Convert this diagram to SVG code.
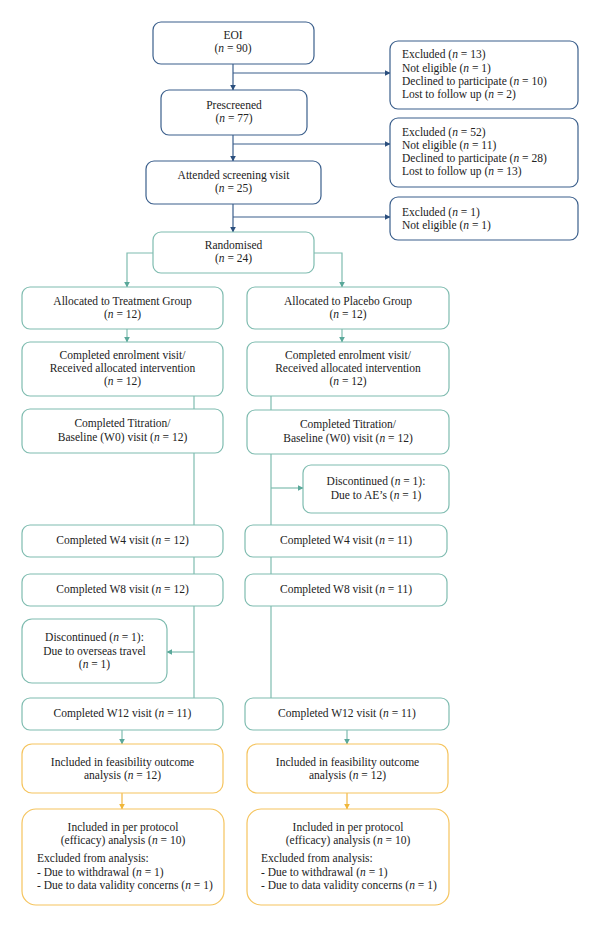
<svg xmlns="http://www.w3.org/2000/svg" width="600" height="927" viewBox="0 0 600 927">
<defs>
<style>
.b{fill:#fff;stroke:#3b5f8c;stroke-width:1.2}
.g{fill:#fff;stroke:#7fbcb0;stroke-width:1.2}
.y{fill:#fff;stroke:#f5c45e;stroke-width:1.2}
.lb{fill:none;stroke:#3b5f8c;stroke-width:1.2}
.lg{fill:none;stroke:#7fbcb0;stroke-width:1.2}
.ly{fill:none;stroke:#f2b843;stroke-width:1.2}
text{font-family:"Liberation Serif","DejaVu Serif",serif;font-size:11.5px;fill:#222}
.c{text-anchor:middle}
.i{font-style:italic}
</style>
<marker id="ab" viewBox="0 0 10 10" refX="9" refY="5" markerWidth="6" markerHeight="6" markerUnits="userSpaceOnUse" orient="auto"><path d="M0,0L10,5L0,10z" fill="#2b4f7e"/></marker>
<marker id="ag" viewBox="0 0 10 10" refX="9" refY="5" markerWidth="6" markerHeight="6" markerUnits="userSpaceOnUse" orient="auto"><path d="M0,0L10,5L0,10z" fill="#5aa89a"/></marker>
<marker id="ay" viewBox="0 0 10 10" refX="9" refY="5" markerWidth="6" markerHeight="6" markerUnits="userSpaceOnUse" orient="auto"><path d="M0,0L10,5L0,10z" fill="#f0b73a"/></marker>
</defs>
<rect width="600" height="927" fill="#fff"/>
<g id="connectors">
<path class="lb" d="M233,64V90" marker-end="url(#ab)"/>
<path class="lb" d="M233,73H390" marker-end="url(#ab)"/>
<path class="lb" d="M233,135V161" marker-end="url(#ab)"/>
<path class="lb" d="M233,144H390" marker-end="url(#ab)"/>
<path class="lb" d="M233,204V232" marker-end="url(#ab)"/>
<path class="lb" d="M233,217H390" marker-end="url(#ab)"/>
<path class="lg" d="M153,253H127V287" marker-end="url(#ag)"/>
<path class="lg" d="M314,253H342V287" marker-end="url(#ag)"/>
<path class="lg" d="M127,329V342" marker-end="url(#ag)"/>
<path class="lg" d="M342,329V342" marker-end="url(#ag)"/>
<path class="lg" d="M194,396V698"/>
<path class="lg" d="M194,652H167" marker-end="url(#ag)"/>
<path class="lg" d="M271,396V698"/>
<path class="lg" d="M271,488H303" marker-end="url(#ag)"/>
<path class="lg" d="M122,730V744" marker-end="url(#ag)"/>
<path class="lg" d="M347,730V744" marker-end="url(#ag)"/>
<path class="ly" d="M122,793V809" marker-end="url(#ay)"/>
<path class="ly" d="M347,793V809" marker-end="url(#ay)"/>
</g>
<g id="eoi"><rect class="b" x="153" y="22" width="161" height="42" rx="8"/><text class="c" x="233" y="39">EOI</text><text class="c" x="233" y="52">(<tspan class="i">n</tspan> = 90)</text></g>
<g id="excl1"><rect class="b" x="390" y="41" width="188" height="68" rx="8"/><text x="402" y="58">Excluded (<tspan class="i">n</tspan> = 13)</text><text x="402" y="71.5">Not eligible (<tspan class="i">n</tspan> = 1)</text><text x="402" y="84.5">Declined to participate (<tspan class="i">n</tspan> = 10)</text><text x="402" y="97.5">Lost to follow up (<tspan class="i">n</tspan> = 2)</text></g>
<g id="prescreened"><rect class="b" x="161" y="90" width="146" height="45" rx="8"/><text class="c" x="234" y="109">Prescreened</text><text class="c" x="234" y="122">(<tspan class="i">n</tspan> = 77)</text></g>
<g id="excl2"><rect class="b" x="390" y="118" width="188" height="69" rx="8"/><text x="402" y="136">Excluded (<tspan class="i">n</tspan> = 52)</text><text x="402" y="149">Not eligible (<tspan class="i">n</tspan> = 11)</text><text x="402" y="162">Declined to participate (<tspan class="i">n</tspan> = 28)</text><text x="402" y="175">Lost to follow up (<tspan class="i">n</tspan> = 13)</text></g>
<g id="screening"><rect class="b" x="146" y="161" width="175" height="43" rx="8"/><text class="c" x="233.5" y="179">Attended screening visit</text><text class="c" x="233.5" y="192">(<tspan class="i">n</tspan> = 25)</text></g>
<g id="excl3"><rect class="b" x="390" y="197" width="188" height="43" rx="8"/><text x="402" y="216">Excluded (<tspan class="i">n</tspan> = 1)</text><text x="402" y="228.5">Not eligible (<tspan class="i">n</tspan> = 1)</text></g>
<g id="randomised"><rect class="g" x="153" y="232" width="161" height="41" rx="8"/><text class="c" x="233.5" y="249">Randomised</text><text class="c" x="233.5" y="262">(<tspan class="i">n</tspan> = 24)</text></g>
<g id="alloc-t"><rect class="g" x="22" y="287" width="201" height="42" rx="8"/><text class="c" x="122.5" y="305">Allocated to Treatment Group</text><text class="c" x="122.5" y="318">(<tspan class="i">n</tspan> = 12)</text></g>
<g id="alloc-p"><rect class="g" x="247" y="287" width="202" height="42" rx="8"/><text class="c" x="348" y="305">Allocated to Placebo Group</text><text class="c" x="348" y="318">(<tspan class="i">n</tspan> = 12)</text></g>
<g id="enrol-t"><rect class="g" x="22" y="342" width="201" height="54" rx="8"/><text class="c" x="122.5" y="359">Completed enrolment visit/</text><text class="c" x="122.5" y="372">Received allocated intervention</text><text class="c" x="122.5" y="385">(<tspan class="i">n</tspan> = 12)</text></g>
<g id="enrol-p"><rect class="g" x="247" y="342" width="202" height="54" rx="8"/><text class="c" x="348" y="359">Completed enrolment visit/</text><text class="c" x="348" y="372">Received allocated intervention</text><text class="c" x="348" y="385">(<tspan class="i">n</tspan> = 12)</text></g>
<g id="titr-t"><rect class="g" x="22" y="409" width="201" height="44" rx="8"/><text class="c" x="122.5" y="427">Completed Titration/</text><text class="c" x="122.5" y="440.5">Baseline (W0) visit (<tspan class="i">n</tspan> = 12)</text></g>
<g id="titr-p"><rect class="g" x="247" y="410" width="202" height="44" rx="8"/><text class="c" x="348" y="428">Completed Titration/</text><text class="c" x="348" y="441.5">Baseline (W0) visit (<tspan class="i">n</tspan> = 12)</text></g>
<g id="disc-p"><rect class="g" x="303" y="465" width="146" height="48" rx="8"/><text class="c" x="376" y="485">Discontinued (<tspan class="i">n</tspan> = 1):</text><text class="c" x="376" y="498.5">Due to AE’s (<tspan class="i">n</tspan> = 1)</text></g>
<g id="w4-t"><rect class="g" x="22" y="525" width="201" height="32" rx="8"/><text class="c" x="122.5" y="544">Completed W4 visit (<tspan class="i">n</tspan> = 12)</text></g>
<g id="w4-p"><rect class="g" x="245" y="525" width="202" height="32" rx="8"/><text class="c" x="346" y="544">Completed W4 visit (<tspan class="i">n</tspan> = 11)</text></g>
<g id="w8-t"><rect class="g" x="22" y="574" width="201" height="32" rx="8"/><text class="c" x="122.5" y="593">Completed W8 visit (<tspan class="i">n</tspan> = 12)</text></g>
<g id="w8-p"><rect class="g" x="245" y="574" width="202" height="32" rx="8"/><text class="c" x="346" y="593">Completed W8 visit (<tspan class="i">n</tspan> = 11)</text></g>
<g id="disc-t"><rect class="g" x="22" y="619" width="145" height="64" rx="10"/><text class="c" x="94.5" y="641">Discontinued (<tspan class="i">n</tspan> = 1):</text><text class="c" x="94.5" y="654.5">Due to overseas travel</text><text class="c" x="94.5" y="668">(<tspan class="i">n</tspan> = 1)</text></g>
<g id="w12-t"><rect class="g" x="22" y="698" width="201" height="32" rx="8"/><text class="c" x="122.5" y="717">Completed W12 visit (<tspan class="i">n</tspan> = 11)</text></g>
<g id="w12-p"><rect class="g" x="245" y="698" width="204" height="32" rx="8"/><text class="c" x="347" y="717">Completed W12 visit (<tspan class="i">n</tspan> = 11)</text></g>
<g id="feas-t"><rect class="y" x="22" y="744" width="201" height="49" rx="10"/><text class="c" x="122.5" y="766">Included in feasibility outcome</text><text class="c" x="122.5" y="779">analysis (<tspan class="i">n</tspan> = 12)</text></g>
<g id="feas-p"><rect class="y" x="247" y="744" width="201" height="49" rx="10"/><text class="c" x="347.5" y="766">Included in feasibility outcome</text><text class="c" x="347.5" y="779">analysis (<tspan class="i">n</tspan> = 12)</text></g>
<g id="pp-t"><rect class="y" x="22" y="809" width="202" height="96" rx="14"/><text class="c" x="123" y="831">Included in per protocol</text><text class="c" x="123" y="844">(efficacy) analysis (<tspan class="i">n</tspan> = 10)</text><text x="37" y="862">Excluded from analysis:</text><text x="37" y="875.5">- Due to withdrawal (<tspan class="i">n</tspan> = 1)</text><text x="37" y="888.5">- Due to data validity concerns (<tspan class="i">n</tspan> = 1)</text></g>
<g id="pp-p"><rect class="y" x="247" y="809" width="202" height="96" rx="14"/><text class="c" x="348" y="831">Included in per protocol</text><text class="c" x="348" y="844">(efficacy) analysis (<tspan class="i">n</tspan> = 10)</text><text x="261" y="862">Excluded from analysis:</text><text x="261" y="875.5">- Due to withdrawal (<tspan class="i">n</tspan> = 1)</text><text x="261" y="888.5">- Due to data validity concerns (<tspan class="i">n</tspan> = 1)</text></g>
</svg>
